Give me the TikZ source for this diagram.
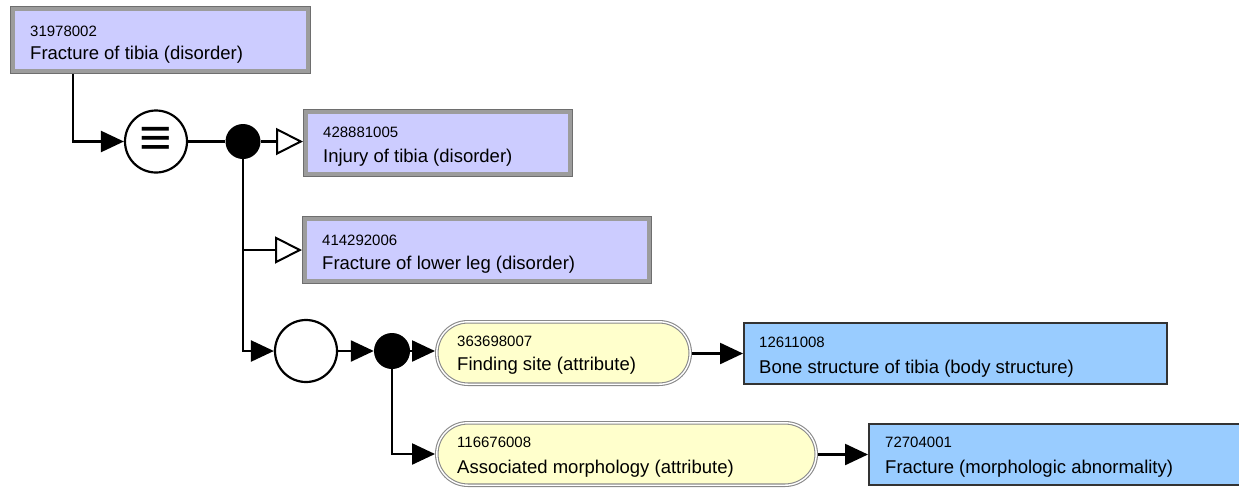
\documentclass[tikz,border=0pt]{standalone}
\usepackage{fontspec}
\usepackage{graphicx}
\setmainfont{Liberation Sans}
\usetikzlibrary{arrows.meta}
\definecolor{purplefill}{HTML}{CCCCFF}
\definecolor{bluefill}{HTML}{99CCFF}
\definecolor{yellowfill}{HTML}{FFFFCC}
\definecolor{bandgray}{HTML}{9C9C9C}
\definecolor{edgegray}{HTML}{6E6E6E}
\definecolor{bluedge}{HTML}{333333}
\definecolor{pillgray}{HTML}{8A8A8A}
\begin{document}
\begin{tikzpicture}[x=1pt,y=-1pt,
  primbox/.style={rectangle, draw=edgegray, line width=0.7pt, double=bandgray,
     double distance=4pt, fill=purplefill, inner sep=0pt, outer sep=2.7pt},
  valbox/.style={rectangle, draw=bluedge, line width=2pt, fill=bluefill,
     inner sep=0pt, outer sep=1pt},
  attrbox/.style={rectangle, rounded corners=31pt, draw=pillgray, line width=1.1pt,
     double=white, double distance=1.4pt, fill=yellowfill, inner sep=0pt, outer sep=1.8pt},
  ringnode/.style={circle, draw=black, line width=2.2pt, fill=white, inner sep=0pt, outer sep=1.1pt},
  dotnode/.style={circle, fill=black, inner sep=0pt},
  numtxt/.style={anchor=base west, inner sep=0pt, font=\fontsize{15}{18}\selectfont},
  labtxt/.style={anchor=base west, inner sep=0pt, font=\fontsize{18.5}{22}\selectfont},
  link/.style={draw=black, line width=2.4pt},
  fillarrow/.style={link, -{Triangle[length=23pt, width=21pt]}},
  openarrow/.style={link, -{Triangle[open, length=27pt, width=27pt, fill=white, line width=2pt]}}
]
\useasboundingbox (0,0) rectangle (1239,488);

% concept boxes
\node[primbox, minimum width=295.6pt, minimum height=62.6pt] (n1) at (160.5,40) {};
\node[primbox, minimum width=264.6pt, minimum height=62.6pt] (n2) at (438,143) {};
\node[primbox, minimum width=344.6pt, minimum height=62.6pt] (n3) at (477,250) {};
\node[attrbox, minimum width=253.4pt, minimum height=62.4pt] (a1) at (563.5,353) {};
\node[attrbox, minimum width=379.4pt, minimum height=62.4pt] (a2) at (626.5,454) {};
\node[valbox, minimum width=423pt, minimum height=61pt] (b1) at (955.5,353.5) {};
\node[valbox, minimum width=373pt, minimum height=61pt] (b2) at (1055.5,454.5) {};

% texts
\node[numtxt] (n1n) at (30,36) {31978002};
\node[labtxt] (n1l) at (30,59) {Fracture of tibia (disorder)};
\node[numtxt] (n2n) at (323,137.5) {428881005};
\node[labtxt] (n2l) at (323,162.5) {Injury of tibia (disorder)};
\node[numtxt] (n3n) at (322,245) {414292006};
\node[labtxt] (n3l) at (322,269.5) {Fracture of lower leg (disorder)};
\node[numtxt] (a1n) at (457,346.5) {363698007};
\node[labtxt] (a1l) at (457,370) {Finding site (attribute)};
\node[numtxt] (a2n) at (457,447) {116676008};
\node[labtxt] (a2l) at (457,473) {Associated morphology (attribute)};
\node[numtxt] (b1n) at (759,347.5) {12611008};
\node[labtxt] (b1l) at (759,373) {Bone structure of tibia (body structure)};
\node[numtxt] (b2n) at (885,447.5) {72704001};
\node[labtxt] (b2l) at (885,473) {Fracture (morphologic abnormality)};

% operators
\node[ringnode, minimum size=62pt] (eq) at (156,141.5) {};
\node[inner sep=0pt, font=\fontsize{36}{36}\selectfont] (eqsym) at (156,141.5) {\scalebox{1.55}[1.45]{≡}};
\node[dotnode, minimum size=35pt] (d1) at (243,141.5) {};
\node[ringnode, minimum size=62pt] (c2) at (306,351) {};
\node[dotnode, minimum size=36pt] (d2) at (392,351) {};

% connectors
\draw[fillarrow] ([xshift=63pt]n1.south west) |- (eq);
\draw[link] (eq) -- (d1);
\draw[openarrow] (d1) -- (d1 -| n2.west);
\draw[fillarrow] (d1) |- (c2);
\draw[openarrow] (d1 |- n3) -- (n3.west);
\draw[fillarrow] (c2) -- (d2);
\draw[fillarrow] (d2) -- (d2 -| a1.west);
\draw[fillarrow] (d2) |- (a2);
\draw[fillarrow] (a1.east |- b1) -- (b1.west);
\draw[fillarrow] (a2.east |- b2) -- (b2.west);
\end{tikzpicture}
\end{document}
